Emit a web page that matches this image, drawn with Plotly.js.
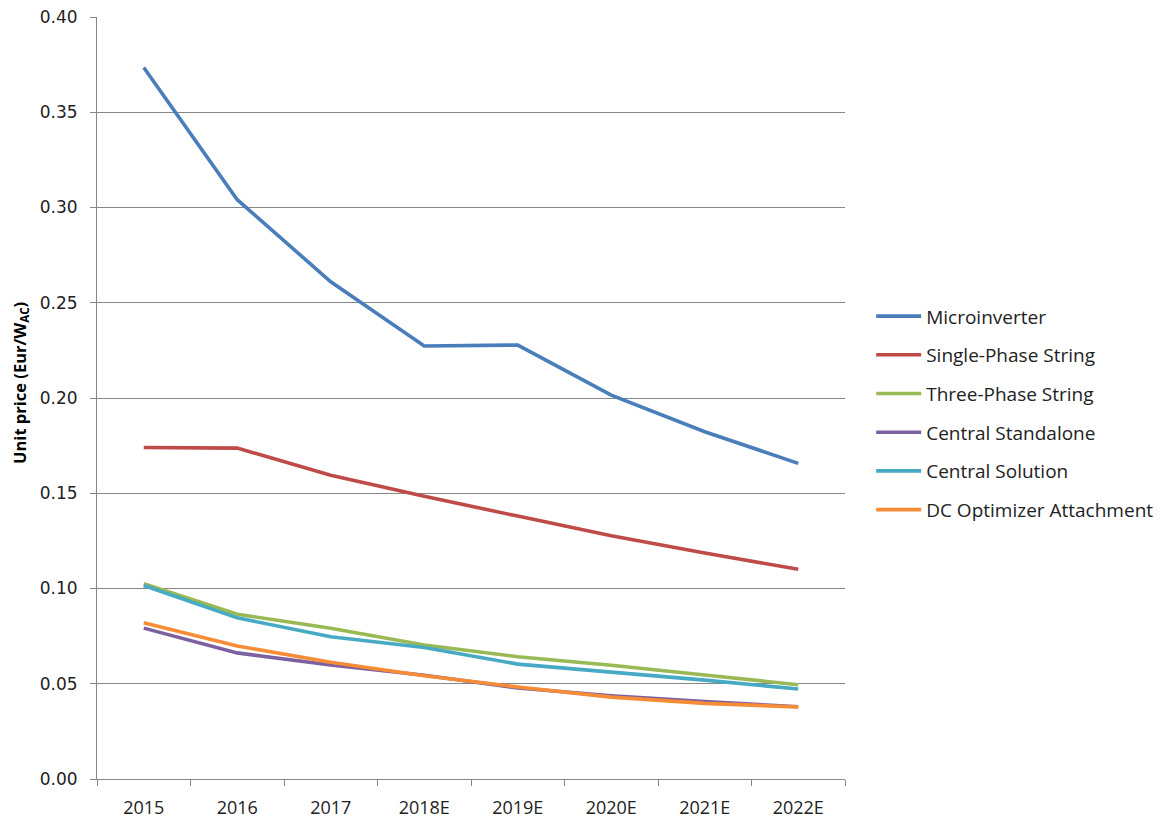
<!DOCTYPE html>
<html><head><meta charset="utf-8">
<script src="https://cdn.plot.ly/plotly-3.0.1.min.js"></script>
<style>body{margin:0;background:#fff}#chart{width:1163px;height:820px}</style>
</head><body><div id="chart"></div>
<script>
const years = ["2015","2016","2017","2018E","2019E","2020E","2021E","2022E"];
const seriesNames = ["Microinverter","Single-Phase String","Three-Phase String","Central Standalone","Central Solution","DC Optimizer Attachment"];
const microinverter = [0.3735,0.3041,0.2610,0.2273,0.2278,0.2015,0.1823,0.1657];
const singlePhase = [0.1740,0.1737,0.1595,0.1484,0.1380,0.1277,0.1186,0.1101];
const threePhase = [0.1025,0.0865,0.0791,0.0703,0.0642,0.0597,0.0546,0.0495];
const centralStandalone = [0.0792,0.0662,0.0598,0.0545,0.0478,0.0437,0.0406,0.0379];
const centralSolution = [0.1016,0.0846,0.0747,0.0690,0.0603,0.0563,0.0519,0.0472];
const dcOptimizer = [0.0820,0.0698,0.0613,0.0542,0.0483,0.0430,0.0397,0.0378];
const colors = ["#4A7EBB","#BE4B48","#98B954","#7D60A0","#46AAC5","#F68C36"];
const values = [microinverter,singlePhase,threePhase,centralStandalone,centralSolution,dcOptimizer];

const traces = values.map((v,i)=>({
  x: years, y: v, name: seriesNames[i], type:"scatter", mode:"lines",
  line:{color:colors[i], width:3.6}, legendgroup:"g"+i
}));

const layout = {
  width:1163, height:820,
  margin:{l:97, r:318, t:17, b:41, autoexpand:false},
  paper_bgcolor:"#fff", plot_bgcolor:"#fff",
  showlegend:true,
  legend:{x:1.035, y:0.48, xanchor:"left", yanchor:"middle", traceorder:"grouped", tracegroupgap:11,
    itemwidth:45, font:{family:"Open Sans", size:19, color:"#222"}},
  xaxis:{type:"category", range:[-0.5,7.5], showgrid:false, showline:true, linecolor:"#868686", linewidth:1,
    ticks:"outside", tickson:"boundaries", ticklen:6, tickcolor:"#868686", ticklabelstandoff:12,
    tickfont:{family:"Open Sans", size:18, color:"#222"}, zeroline:false, automargin:false},
  yaxis:{range:[0,0.4], dtick:0.05, tickformat:".2f", showgrid:true, gridcolor:"#868686", gridwidth:1,
    showline:true, linecolor:"#868686", ticks:"outside", ticklen:6, tickcolor:"#868686", zeroline:false,
    ticklabelstandoff:9, automargin:false,
    tickfont:{family:"DejaVu Sans", size:17, color:"#222"}},
  annotations:[{text:"<b>Unit price (Eur/W<sub>AC</sub>)</b>", xref:"paper", yref:"paper",
    x:-0.103, y:0.5197, xanchor:"center", yanchor:"middle", textangle:-90, showarrow:false,
    font:{family:"Open Sans", size:16.5, color:"#000"}}]
};
Plotly.newPlot("chart", traces, layout, {displayModeBar:false, staticPlot:true});
</script></body></html>
